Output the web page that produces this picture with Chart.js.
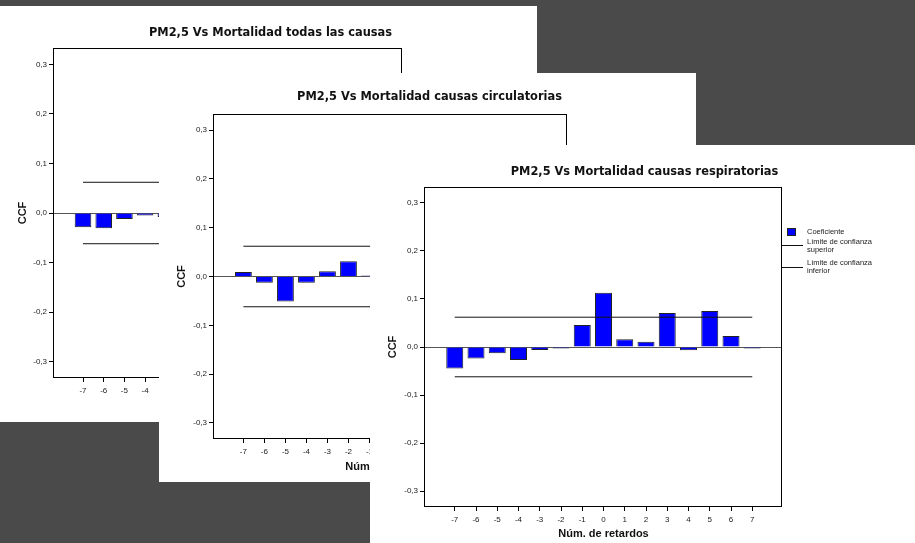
<!DOCTYPE html>
<html>
<head>
<meta charset="utf-8">
<script src="https://cdn.jsdelivr.net/npm/chart.js@4.4.0/dist/chart.umd.min.js"></script>
<style>
html, body { margin: 0; padding: 0; width: 915px; height: 543px; overflow: hidden; background: #4a4a4a; }
.panel { position: absolute; background: #fff; overflow: hidden; }
.panel canvas { display: block; }
</style>
</head>
<body>
<div class="panel" style="left:0px;top:6px;width:537px;height:416px"><canvas id="c1" width="537" height="416"></canvas></div>
<div class="panel" style="left:159px;top:73px;width:537px;height:409px"><canvas id="c2" width="537" height="409"></canvas></div>
<div class="panel" style="left:370px;top:145px;width:545px;height:398px"><canvas id="c3" width="545" height="398"></canvas></div>
<script>
// retardos y ticks
const lags = [-7, -6, -5, -4, -3, -2, -1, 0, 1, 2, 3, 4, 5, 6, 7];
const yTicks = [-0.3, -0.2, -0.1, 0, 0.1, 0.2, 0.3];

// CCF (null = queda tapado por el panel de encima)
const ccfTodas = [-0.029, -0.031, -0.012, -0.005, -0.008, null, null, null, null, null, null, null, null, null, null];
const ccfCirc = [0.009, -0.013, -0.051, -0.013, 0.011, 0.031, 0.002, null, null, null, null, null, null, null, null];
const ccfResp = [-0.045, -0.024, -0.013, -0.027, -0.006, -0.003, 0.046, 0.113, 0.016, 0.011, 0.071, -0.007, 0.075, 0.023, -0.003];

// limites de confianza (de -7 a 7)
const limSuperior = [0.062, 0.062];
const limInferior = [-0.062, -0.062];

const titulos = [
    'PM2,5 Vs Mortalidad todas las causas',
    'PM2,5 Vs Mortalidad causas circulatorias',
    'PM2,5 Vs Mortalidad causas respiratorias'
];

const SANS = '"Liberation Sans", Arial, sans-serif';
Chart.defaults.font.family = SANS;
Chart.defaults.color = '#222';

// titulo, marco y leyenda estilo SPSS
const panelDeco = {
    id: 'panelDeco',
    afterDraw(chart, args, opts) {
        const ctx = chart.ctx, a = chart.chartArea;
        ctx.save();
        ctx.strokeStyle = '#000'; ctx.lineWidth = 1;
        ctx.strokeRect(a.left - 0.5, a.top + 0.5, a.right - a.left, a.bottom - a.top - 1);

        ctx.fillStyle = '#111';
        ctx.font = 'bold 11.4px "DejaVu Sans"';
        ctx.textAlign = 'center'; ctx.textBaseline = 'middle';
        ctx.fillText(opts.title, chart.width / 2 + 2, opts.titleY);

        // leyenda
        const R = a.right, T = a.top;
        const bars = chart.data.datasets[2];
        ctx.fillStyle = bars.backgroundColor;
        ctx.fillRect(R + 5, T + 41, 9, 8);
        ctx.strokeStyle = bars.borderColor;
        ctx.strokeRect(R + 5.5, T + 41.5, 8, 7);
        ctx.strokeStyle = '#111';
        ctx.beginPath();
        ctx.moveTo(R, T + 58.5); ctx.lineTo(R + 21, T + 58.5);
        ctx.moveTo(R, T + 80.5); ctx.lineTo(R + 21, T + 80.5);
        ctx.stroke();
        ctx.fillStyle = '#222';
        ctx.font = '7.5px ' + SANS;
        ctx.textAlign = 'left';
        ctx.fillText('Coeficiente', R + 25, T + 45);
        ctx.fillText('Límite de confianza', R + 25, T + 55);
        ctx.fillText('superior', R + 25, T + 63);
        ctx.fillText('Límite de confianza', R + 25, T + 76);
        ctx.fillText('inferior', R + 25, T + 84);
        ctx.restore();
    }
};

function makePanel(p) {
    const tFont = { family: SANS, size: 11, weight: 'bold' };
    const lh = 11 * 1.2;
    new Chart(document.getElementById(p.id), {
        type: 'bar',
        data: { datasets: [
            { type: 'line', label: 'Límite de confianza superior',
              data: [{ x: lags[0], y: limSuperior[0] }, { x: lags[lags.length - 1], y: limSuperior[1] }],
              borderColor: '#111', borderWidth: 1, pointRadius: 0, order: 1 },
            { type: 'line', label: 'Límite de confianza inferior',
              data: [{ x: lags[0], y: limInferior[0] }, { x: lags[lags.length - 1], y: limInferior[1] }],
              borderColor: '#111', borderWidth: 1, pointRadius: 0, order: 1 },
            { label: 'Coeficiente', data: lags.map((l, i) => ({ x: l, y: p.ccf[i] })),
              backgroundColor: '#0000ff', borderColor: '#222', borderWidth: 1,
              barPercentage: 0.8, categoryPercentage: 1, order: 2 }
        ]},
        options: {
            responsive: false, animation: false, events: [],
            layout: { padding: { left: 0, top: p.frame.t, right: p.w - p.frame.r, bottom: 0 } },
            plugins: {
                legend: { display: false }, title: { display: false }, tooltip: { enabled: false },
                panelDeco: { title: p.title, titleY: p.titleY }
            },
            scales: {
                x: {
                    type: 'linear', min: -8.4, max: 8.4, offset: false,
                    afterFit: s => { s.height = p.h - p.frame.b; },
                    afterBuildTicks: s => { s.ticks = lags.map(v => ({ value: v })); },
                    grid: { offset: false, drawOnChartArea: false, tickLength: 4, tickColor: '#000', color: '#000' },
                    border: { display: false },
                    ticks: { autoSkip: false, maxRotation: 0, padding: 4, font: { size: 8 }, color: '#222', callback: v => String(v) },
                    title: { display: true, text: 'Núm. de retardos', font: tFont, color: '#111',
                             padding: { top: 0, bottom: p.h - p.frame.b - p.xTitleGap - lh / 2 } }
                },
                y: {
                    min: -0.333, max: 0.333,
                    afterFit: s => { s.width = p.frame.l; },
                    afterBuildTicks: s => { s.ticks = yTicks.map(v => ({ value: v })); },
                    grid: { color: c => (c.tick && c.tick.value === 0) ? '#555' : 'rgba(0,0,0,0)', tickColor: '#000', tickLength: 5 },
                    border: { display: false },
                    ticks: { padding: 2, font: { size: 8 }, color: '#222', callback: v => v.toFixed(1).replace('.', ',') },
                    title: { display: true, text: 'CCF', font: tFont, color: '#111', padding: { top: 23 - lh / 2, bottom: 0 } }
                }
            }
        },
        plugins: [panelDeco]
    });
}

makePanel({ id: 'c1', ccf: ccfTodas, title: titulos[0], w: 537, h: 416, frame: { l: 54, t: 42, r: 402, b: 372 }, titleY: 27, xTitleGap: 28 });
makePanel({ id: 'c2', ccf: ccfCirc, title: titulos[1], w: 537, h: 409, frame: { l: 55, t: 41, r: 408, b: 366 }, titleY: 24, xTitleGap: 28 });
makePanel({ id: 'c3', ccf: ccfResp, title: titulos[2], w: 545, h: 398, frame: { l: 55, t: 42, r: 412, b: 362 }, titleY: 27, xTitleGap: 27 });
</script>
</body>
</html>
